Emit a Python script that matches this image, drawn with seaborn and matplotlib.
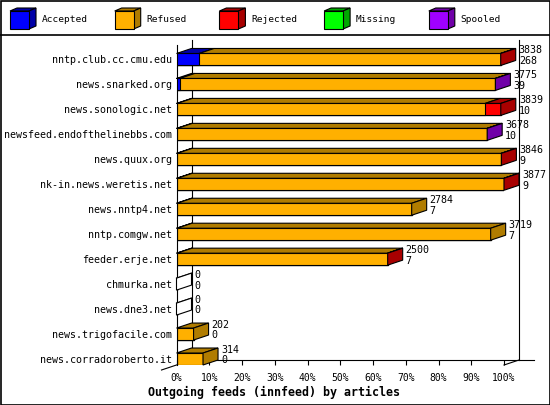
import numpy as np
import pandas as pd
import matplotlib
matplotlib.use("Agg")
import matplotlib.pyplot as plt
from matplotlib.patches import Polygon, Rectangle
import seaborn as sns

# ---- data (articles per peer) ----
peers = ["nntp.club.cc.cmu.edu", "news.snarked.org", "news.sonologic.net",
         "newsfeed.endofthelinebbs.com", "news.quux.org", "nk-in.news.weretis.net",
         "news.nntp4.net", "nntp.comgw.net", "feeder.erje.net", "chmurka.net",
         "news.dne3.net", "news.trigofacile.com", "news.corradoroberto.it"]
accepted = [268, 39, 10, 10, 9, 9, 7, 7, 7, 0, 0, 0, 0]
refused = [3569, 3735, 3644, 3667, 3836, 3867, 2777, 3712, 2492, 0, 0, 202, 314]
rejected = [1, 0, 185, 0, 1, 1, 0, 0, 1, 0, 0, 0, 0]
missing = [0, 0, 0, 0, 0, 0, 0, 0, 0, 0, 0, 0, 0]
spooled = [0, 1, 0, 1, 0, 0, 0, 0, 0, 0, 0, 0, 0]

series = ["Accepted", "Refused", "Rejected", "Missing", "Spooled"]
front_colors = ["#0000ff", "#ffb000", "#ff0000", "#00ff00", "#a000ff"]
dark_colors = ["#0000a8", "#b07c00", "#a80000", "#00a800", "#7000a8"]
xticks = [0, 10, 20, 30, 40, 50, 60, 70, 80, 90, 100]

counts = np.array([accepted, refused, rejected, missing, spooled], dtype=float)
offered = counts.sum(axis=0)
pct = counts / offered.max() * 100
cum = np.cumsum(pct, axis=0)

W, H = 550, 405
fig = plt.figure(figsize=(W / 100, H / 100), dpi=100)

# overlay in pixel coords for frame and legend
over = fig.add_axes([0, 0, 1, 1], zorder=-1)
over.set_xlim(0, W)
over.set_ylim(H, 0)
over.axis("off")
over.add_patch(Rectangle((0.5, 0.5), W - 1, H - 1, fill=False, lw=1.2, ec="black"))
over.plot([0, W], [35, 35], color="black", lw=1.2)

mono = "DejaVu Sans Mono"
for k, name in enumerate(series):
    x0 = 10 + k * 104.7
    over.add_patch(Polygon([(x0, 11), (x0 + 19, 11), (x0 + 26, 8), (x0 + 7, 8)],
                           fc=dark_colors[k], ec="black", lw=0.8))
    over.add_patch(Polygon([(x0 + 19, 11), (x0 + 19, 29), (x0 + 26, 26), (x0 + 26, 8)],
                           fc=dark_colors[k], ec="black", lw=0.8))
    over.add_patch(Rectangle((x0, 11), 19, 18, fc=front_colors[k], ec="black", lw=0.8))
    over.text(x0 + 32, 20, name, family=mono, fontsize=6.8, va="center", ha="left")

# main chart axes: 0..100% between px 176.5 and 504
ax = fig.add_axes([176.5 / W, (H - 365) / H, (504 - 176.5) / W, 325 / H])
ax.set_facecolor("none")

bh = 0.48
for k in range(4, -1, -1):
    df = pd.DataFrame({"peer": peers, "value": cum[k]})
    sns.barplot(data=df, x="value", y="peer", orient="h", color=front_colors[k],
                saturation=1, width=bh, edgecolor="black", linewidth=0.8, ax=ax)

ax.set_xlim(0, 100)
ax.set_ylim(12.24, -0.78)
dx = 15 / 3.275
dy = -5 / 24.96

# 3D top and side faces
for i in range(len(peers)):
    top = i - bh / 2
    bot = i + bh / 2
    left = 0.0
    last = None
    for k in range(5):
        right = cum[k][i]
        if pct[k][i] > 0:
            ax.add_patch(Polygon([(left, top), (right, top), (right + dx, top + dy),
                                  (left + dx, top + dy)], fc=dark_colors[k],
                                 ec="black", lw=0.8, zorder=3, clip_on=False))
            last = k
        left = right
    end = cum[4][i]
    side_fc = dark_colors[last] if last is not None else "white"
    if last is None:
        ax.plot([0, dx], [top, top + dy], color="black", lw=0.8, zorder=3, clip_on=False)
    ax.add_patch(Polygon([(end, top), (end, bot), (end + dx, bot + dy), (end + dx, top + dy)],
                         fc=side_fc, ec="black", lw=0.8, zorder=3, clip_on=False))
    ax.annotate(f"{int(offered[i])}", xy=(end + dx, i), xytext=(2.2, 6.8),
                textcoords="offset points", family=mono, fontsize=7.2,
                ha="left", va="center", annotation_clip=False)
    ax.annotate(f"{accepted[i]}", xy=(end + dx, i), xytext=(2.2, -1.0),
                textcoords="offset points", family=mono, fontsize=7.2,
                ha="left", va="center", annotation_clip=False)

# walls and floor
ybottom, ytop_ = 12.24, -0.78
ax.plot([0, 0], [ybottom, ytop_ - dy], color="black", lw=0.8, zorder=0.5, clip_on=False)
ax.plot([dx, dx], [ybottom + dy, ytop_], color="black", lw=0.8, zorder=0.5, clip_on=False)
ax.plot([100 + dx, 100 + dx], [ybottom + dy, ytop_], color="black", lw=0.8, zorder=0.5, clip_on=False)
ax.plot([dx, 100 + 2 * dx], [ybottom + dy, ybottom + dy], color="black", lw=0.8,
        zorder=0.5, clip_on=False)
ax.plot([-dx, dx], [ybottom - dy, ybottom + dy], color="black", lw=0.8, zorder=0.5, clip_on=False)
ax.plot([100, 100 + dx], [ybottom, ybottom + dy], color="black", lw=0.8, zorder=0.5, clip_on=False)

for s in ax.spines.values():
    s.set_visible(False)
ax.set_xticks(xticks)
ax.set_xticklabels([f"{t}%" for t in xticks], family=mono, fontsize=7)
ax.tick_params(axis="x", direction="in", length=3.6, width=0.8, pad=6)
ax.tick_params(axis="y", length=0, pad=3.2)
for lab in ax.get_yticklabels():
    lab.set_family(mono)
    lab.set_fontsize(7.2)
ax.set_xlabel("")
ax.set_ylabel("")

fig.text(274 / W, 1 - 392 / H, "Outgoing feeds (innfeed) by articles", family=mono,
         fontsize=8.4, fontweight="bold", ha="center", va="center")

fig.savefig("out.png", dpi=100)
